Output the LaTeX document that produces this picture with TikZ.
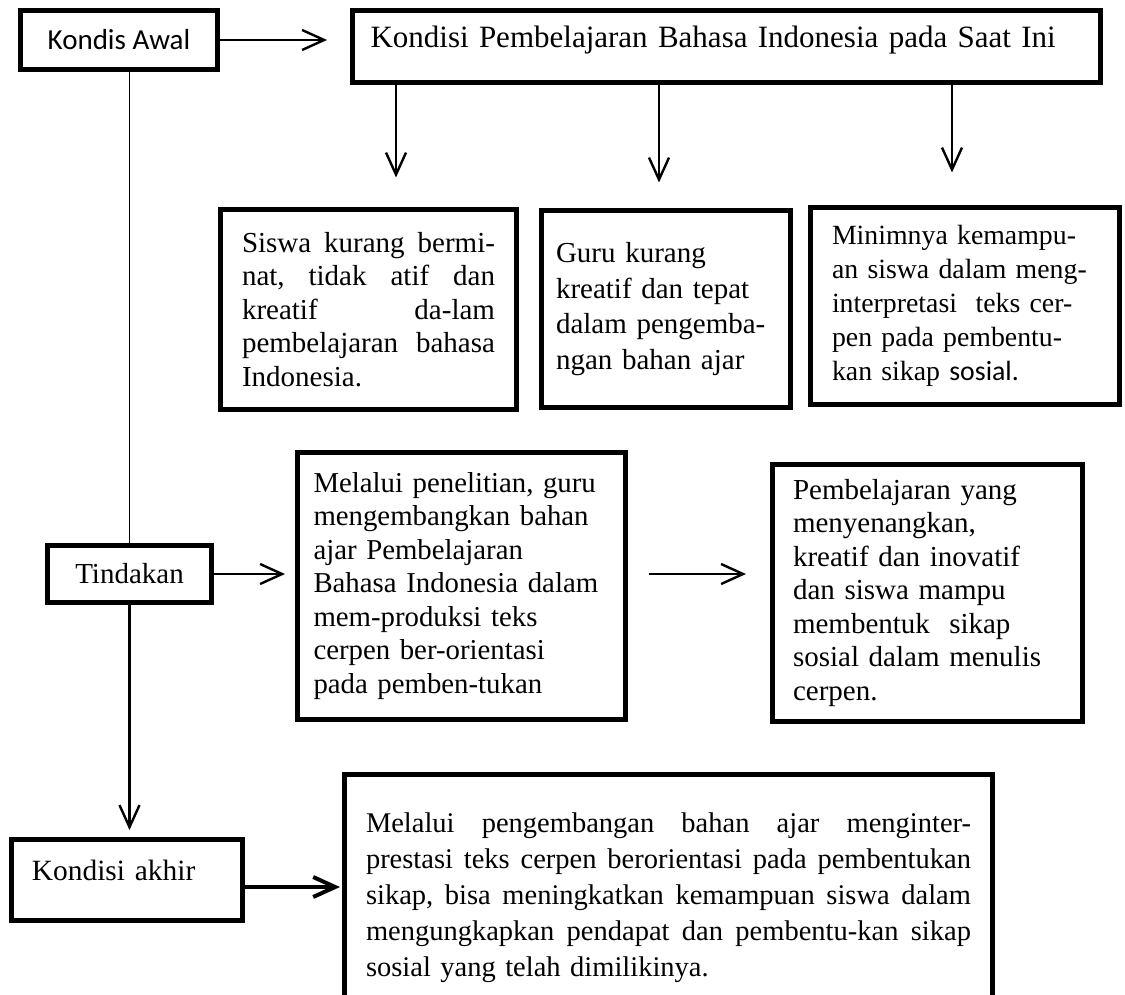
\documentclass[tikz,border=0pt]{standalone}
\usepackage{fontspec}
\setmainfont{Liberation Serif}
\newfontfamily\calibri{Carlito}
\usetikzlibrary{arrows.meta,positioning}
\frenchspacing
% baris rata kiri-kanan dengan lebar tetap
\newcommand{\rata}[2]{\makebox[#1][s]{\spaceskip=.25em plus 1fil #2}}

\begin{document}
\begin{tikzpicture}[x=0.5pt, y=-0.5pt,
    kotak/.style={draw, line width=2.5pt, align=left, inner sep=2pt, font=\fontsize{14.5}{16.75}\selectfont},
    panah/.style={-{Straight Barb[length=11pt,width=10pt]}, line width=1.2pt},
    garis/.style={line width=0.9pt}]
  \useasboundingbox (0,0) rectangle (1125,995);
  \clip (0,0) rectangle (1125,995);

  % baris atas
  \node[kotak, minimum width=98.5pt, minimum height=29.5pt, font=\calibri\fontsize{14.5}{16}\selectfont] (awal) at (119,40) {Kondis Awal};
  \node[kotak, minimum width=374pt, minimum height=36pt, text width=356pt, text depth=10pt, font=\fontsize{15.5}{19}\selectfont] (kondisi) at (726.5,46.5) {Kondisi Pembelajaran Bahasa Indonesia pada Saat Ini};

  % tiga masalah
  \node[kotak, minimum width=148pt, minimum height=100pt, text width=126.5pt] (siswa) at (368.5,309.5)
    {\rata{126.5pt}{Siswa kurang bermi-}\\ \rata{126.5pt}{nat, tidak atif dan}\\ \rata{126.5pt}{kreatif da-lam}\\ \rata{126.5pt}{pembelajaran bahasa}\\ Indonesia.};
  \node[kotak, minimum width=124.5pt, minimum height=98.5pt, text width=110pt, font=\fontsize{14.5}{17.75}\selectfont] (guru) at (666,309)
    {Guru kurang\\ kreatif dan tepat\\ dalam pengemba-\\ ngan bahan ajar};
  \node[kotak, minimum width=154.5pt, minimum height=98.5pt, text width=133pt, font=\fontsize{13.9}{17}\selectfont] (minim) at (965,306)
    {Minimnya kemampu-\\ an siswa dalam meng-\\ interpretasi\ \ teks cer-\\ pen pada pembentu-\\ kan sikap {\calibri sosial.}};

  % tindakan
  \node[kotak, minimum width=82pt, minimum height=28.5pt] (tindakan) at (129.5,574) {Tindakan};
  \node[kotak, minimum width=164pt, minimum height=133.5pt, text width=148pt, font=\fontsize{14.4}{16.75}\selectfont] (teliti) at (461.5,586)
    {Melalui penelitian, guru\\ mengembangkan bahan\\ ajar Pembelajaran\\ Bahasa Indonesia dalam\\ mem-produksi teks\\ cerpen ber-orientasi\\ pada pemben-tukan};
  \node[kotak, minimum width=155pt, minimum height=128.5pt, text width=134.5pt] (hasil) at (927.5,593)
    {Pembelajaran yang\\ menyenangkan,\\ kreatif dan inovatif\\ dan siswa mampu\\ membentuk\ \ sikap\\ sosial dalam menulis\\ cerpen.};

  % kondisi akhir
  \node[kotak, minimum width=115.5pt, minimum height=40.5pt, text width=95pt, text depth=10pt, font=\fontsize{14.7}{17}\selectfont] (akhir) at (127,880) {Kondisi akhir};
  \node[kotak, anchor=north, minimum width=324pt, minimum height=124pt, text width=302.5pt, font=\fontsize{14.25}{18}\selectfont] (simpul) at (668.5,771.5)
    {\rata{302.5pt}{Melalui pengembangan bahan ajar menginter-}\\ \rata{302.5pt}{prestasi teks cerpen berorientasi pada pembentukan}\\ \rata{302.5pt}{sikap, bisa meningkatkan kemampuan siswa dalam}\\ \rata{302.5pt}{mengungkapkan pendapat dan pembentu-kan sikap}\\ sosial yang telah dimilikinya.};

  % panah
  \draw[panah, shorten >=11.5pt] (awal.east) -- (awal.east -| kondisi.west);
  \draw[panah, shorten >=14.75pt] ([xshift=13.75pt]siswa.north |- kondisi.south) -- ([xshift=13.75pt]siswa.north);
  \draw[panah, shorten >=12.75pt] ([xshift=-3.5pt]guru.north |- kondisi.south) -- ([xshift=-3.5pt]guru.north);
  \draw[panah, shorten >=16.25pt] ([xshift=-6.5pt]minim.north |- kondisi.south) -- ([xshift=-6.5pt]minim.north);
  \draw[garis] (awal.south -| tindakan.north) -- (tindakan.north);
  \draw[panah, shorten >=3.5pt] (tindakan.south) -- (tindakan.south |- akhir.north);
  \draw[panah, shorten >=5pt] (tindakan.east) -- (tindakan.east -| teliti.west);
  \draw[panah, shorten <=10.5pt, shorten >=12pt] (teliti.east |- tindakan.east) -- (hasil.west |- tindakan.east);
  \draw[panah, line width=2pt, shorten >=1pt] ([yshift=-3.5pt]akhir.east) -- ([yshift=-3.5pt]akhir.east -| simpul.west);
\end{tikzpicture}
\end{document}
